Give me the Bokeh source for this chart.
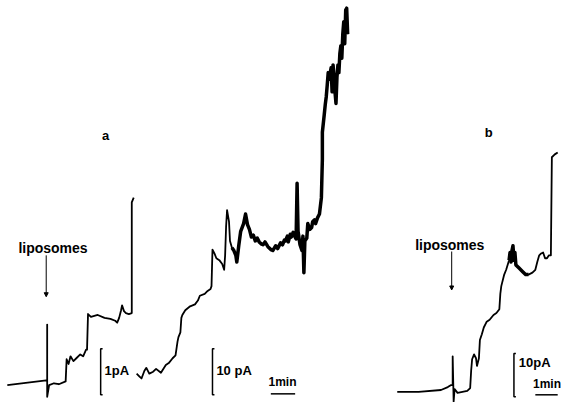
from bokeh.plotting import figure
from bokeh.models import Range1d, Arrow, NormalHead
from bokeh.core.properties import value
from bokeh.embed import file_html
from bokeh.resources import INLINE

# Trace a, first record (1 pA scale): time (chart units) and current (chart units, downward = screen)
t_a1 = [7, 47, 48, 48, 48, 50, 55, 60, 67, 68, 70, 72, 75, 78, 82, 85, 88, 89, 90, 93, 100, 107,
        113, 118, 120, 122, 124, 125, 127, 129, 132, 135, 135, 137]
i_a1 = [400, 395, 395, 337, 412, 400, 398, 399, 396, 373, 378, 370, 375, 372, 368, 370, 363, 363,
        326, 329, 327, 330, 331, 333, 335, 330, 322, 317, 323, 325, 326, 325, 210, 205]

# Trace a, second record (10 pA scale)
t_a2 = [140, 143, 145, 148, 150, 153, 157, 160, 165, 170, 173, 177, 180, 182, 183, 185, 186, 187,
        190, 195, 200, 203, 205, 210, 213, 216, 217, 218, 220, 222, 225, 228, 230, 231, 232, 233,
        235, 236, 238, 240, 242, 243, 245, 247, 250, 252, 254, 256, 258, 260, 262, 264, 266, 268,
        270, 272, 275, 278, 280, 283, 285, 288, 290, 292, 293, 295, 296, 298, 299, 301, 302, 304,
        305, 306, 308, 310, 311, 312, 313, 315, 316, 318, 320, 321, 323, 324, 326, 328, 330, 331,
        331, 333, 334, 335, 336, 337, 338, 340, 341, 342, 343, 344, 345, 346, 347, 348, 349, 350,
        351, 352, 353, 354, 355, 356, 357]
i_a2 = [388, 391, 393, 385, 382, 388, 386, 383, 387, 379, 377, 372, 369, 355, 350, 345, 330, 327,
        322, 318, 316, 312, 307, 305, 302, 300, 297, 259, 263, 268, 270, 274, 280, 265, 235, 218,
        230, 250, 257, 260, 265, 272, 255, 240, 232, 222, 233, 238, 246, 244, 250, 247, 251, 253,
        254, 251, 256, 259, 260, 255, 258, 252, 254, 249, 250, 245, 251, 243, 246, 241, 244, 248,
        190, 240, 254, 260, 245, 283, 250, 247, 232, 238, 236, 230, 228, 232, 226, 222, 205, 165,
        137, 118, 108, 100, 88, 75, 82, 70, 95, 67, 80, 95, 107, 80, 67, 75, 55, 47, 60, 35, 22,
        45, 10, 8, 35]

# Trace b (10 pA scale)
t_b = [408, 430, 453, 460, 463, 465, 465, 466, 467, 470, 475, 480, 483, 484, 485, 487, 489, 490,
       492, 493, 495, 497, 500, 503, 507, 510, 513, 514, 515, 518, 520, 523, 524, 525, 526, 527,
       528, 529, 530, 533, 537, 540, 543, 547, 550, 552, 554, 556, 558, 560, 562, 564, 566, 567,
       570, 573]
i_b = [407, 407, 405, 402, 400, 400, 370, 417, 404, 408, 407, 406, 403, 385, 373, 368, 372, 380,
       372, 353, 347, 340, 334, 332, 327, 325, 321, 305, 297, 285, 280, 270, 262, 272, 260, 255,
       270, 262, 275, 278, 282, 285, 285, 283, 280, 272, 265, 263, 262, 268, 268, 265, 265, 163,
       160, 158]

# Labels
panel_labels = ["a", "b"]
panel_x = [108, 502]
panel_y = [140, 137]

lipo_x = [54, 462]
lipo_y = [257, 254]
arrow_x = [47, 464]
arrow_y0 = [265, 261]
arrow_y1 = [308, 301]

# Scale bars: vertical current bars and time bars
bar_x = [103, 218, 528]
bar_top = [362, 362, 367]
bar_bot = [410, 410, 412]
bar_text = ["1pA", "10 pA", "10pA"]
bar_text_x = [107, 222, 533]
bar_text_y = [385, 385, 376]

time_x0 = [278, 550]
time_x1 = [303, 573]
time_y = [409, 410]
time_text_x = [290, 562]
time_text_y = [397, 399]

FONT = value("Liberation Sans")

p = figure(width=564, height=402, output_backend="svg", toolbar_location=None,
           x_range=Range1d(0, 580), y_range=Range1d(418, 0),
           min_border=0, outline_line_color=None)
p.axis.visible = False
p.grid.visible = False
p.background_fill_color = "white"
p.border_fill_color = "white"

for tt, ii in [(t_a1, i_a1), (t_a2, i_a2), (t_b, i_b)]:
    p.line(tt, ii, line_color="black", line_width=1.8, line_join="round")

# noisy stretches of the recordings drawn as a thicker band
for tt, ii, lo, hi in [(t_a2, i_a2, 238, 358), (t_b, i_b, 523, 545)]:
    sel = [k for k, t in enumerate(tt) if lo <= t <= hi]
    p.line([tt[k] for k in sel], [ii[k] for k in sel], line_color="black", line_width=3.5,
           line_join="round")

# scale bars (bracket shape)
xs = []
ys = []
for x, t, b in zip(bar_x, bar_top, bar_bot):
    xs.append([x + 2, x, x, x + 2])
    ys.append([t, t, b, b])
p.multi_line(xs, ys, line_color="black", line_width=1.5)
p.segment(time_x0, time_y, time_x1, time_y, line_color="black", line_width=1.5)

p.text(bar_text_x, bar_text_y, text=bar_text, text_font=FONT, text_font_style="bold",
       text_font_size="13px", text_baseline="middle", text_align="left", text_color="black")
p.text(time_text_x, time_text_y, text=["1min", "1min"], text_font=FONT, text_font_style="bold",
       text_font_size="12px", text_baseline="middle", text_align="center", text_color="black")
p.text(panel_x, panel_y, text=panel_labels, text_font=FONT, text_font_style="bold",
       text_font_size="13px", text_baseline="middle", text_align="center", text_color="black")
p.text(lipo_x, lipo_y, text=["liposomes", "liposomes"], text_font=FONT, text_font_style="bold",
       text_font_size="14px", text_baseline="middle", text_align="center", text_color="black")

for x, y0, y1 in zip(arrow_x, arrow_y0, arrow_y1):
    p.add_layout(Arrow(x_start=x, y_start=y0, x_end=x, y_end=y1, line_width=1,
                       end=NormalHead(size=4, fill_color="black", line_color="black")))

open("out.html", "w").write(file_html(p, INLINE))
